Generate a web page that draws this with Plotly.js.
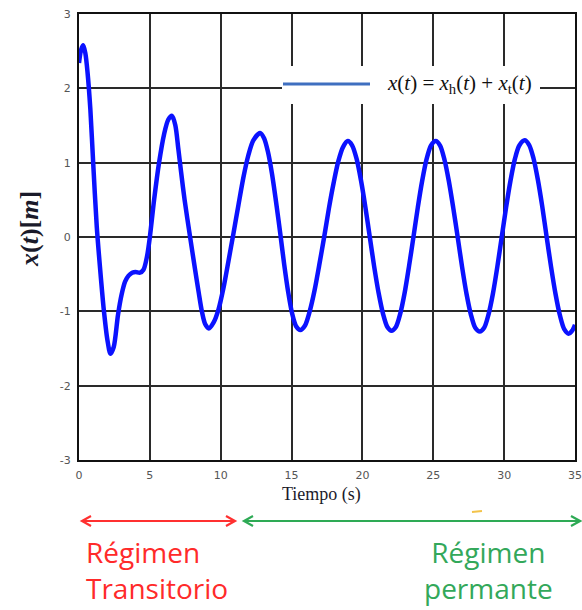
<!DOCTYPE html>
<html>
<head>
<meta charset="utf-8">
<script src="https://cdn.plot.ly/plotly-3.0.1.min.js"></script>
<style>html,body{margin:0;padding:0;background:#fff;}#chart{width:582px;height:610px;}</style>
</head>
<body>
<div id="chart"></div>
<script>
// Time (s)
const tiempo = [0,0.15,0.3,0.45,0.6,0.8,1.0,1.25,1.5,1.75,2.0,2.22,2.45,2.75,3.0,3.25,3.5,3.75,4.0,4.3,4.55,4.8,5.0,5.3,5.65,6.0,6.3,6.57,6.8,7.0,7.2,7.45,7.84,8.2,8.45,8.67,8.9,9.16,9.5,9.85,10.2,10.55,10.9,11.25,11.6,11.95,12.3,12.78,13.06,13.34,13.62,13.9,14.2,14.48,14.76,15.04,15.32,15.62,15.95,16.28,16.62,16.95,17.3,17.63,17.97,18.3,18.63,18.97,19.28,19.59,19.9,20.21,20.52,20.83,21.14,21.45,21.76,22.05,22.36,22.67,22.98,23.29,23.6,23.91,24.22,24.53,24.84,25.17,25.48,25.79,26.1,26.41,26.72,27.03,27.34,27.65,27.96,28.28,28.59,28.9,29.21,29.52,29.83,30.14,30.45,30.76,31.07,31.45,31.76,32.07,32.38,32.69,33.0,33.31,33.62,33.93,34.24,34.55,34.8,35.0];
// Displacement x(t) [m]
const desplazamiento = [2.34,2.52,2.58,2.47,2.22,1.72,1.0,0.15,-0.45,-0.98,-1.38,-1.57,-1.48,-1.05,-0.78,-0.6,-0.52,-0.48,-0.47,-0.48,-0.44,-0.26,0.0,0.5,1.0,1.38,1.58,1.63,1.5,1.2,0.88,0.5,0.0,-0.45,-0.75,-1.0,-1.17,-1.23,-1.15,-0.97,-0.68,-0.32,0.05,0.43,0.8,1.1,1.3,1.40,1.33,1.14,0.85,0.48,0.05,-0.37,-0.74,-1.03,-1.2,-1.25,-1.19,-1.0,-0.72,-0.38,0.0,0.38,0.73,1.02,1.21,1.29,1.23,1.05,0.76,0.40,0.0,-0.40,-0.75,-1.03,-1.21,-1.26,-1.21,-1.03,-0.75,-0.39,0.0,0.40,0.76,1.05,1.23,1.29,1.23,1.04,0.75,0.39,0.0,-0.40,-0.76,-1.04,-1.22,-1.27,-1.22,-1.04,-0.76,-0.40,0.0,0.40,0.76,1.05,1.23,1.30,1.24,1.06,0.77,0.41,0.0,-0.40,-0.76,-1.05,-1.24,-1.30,-1.26,-1.18];

const xTicks = [0,5,10,15,20,25,30,35];
const xTickLabels = ['0','5','10','15','20','25','30','35'];
const yTicks = [-3,-2,-1,0,1,2,3];
const yTickLabels = ['-3','-2','-1','0','1','2','3'];

const legendText = '<i>x</i>(<i>t</i>) = <i>x</i><sub>h</sub>(<i>t</i>) + <i>x</i><sub>t</sub>(<i>t</i>)';
const xTitle = 'Tiempo (s)';
const yTitle = '<b><i>x</i>(<i>t</i>)[<i>m</i>]</b>';
const transLabel = 'Régimen<br>Transitorio';
const permLabel = 'Régimen<br>permante';

// plot area in pixels: left 79, right 575, top 14, bottom 460
const L = 79, R = 575, T = 14, B = 460;
const px = v => (v - L) / (R - L);
const py = v => (B - v) / (B - T);

// double-headed arrow drawn as paper-space shapes (pixel positions converted)
function doubleArrow(x0, x1, yy, color) {
  const h = 9, w = 5;
  const pt = (a, b) => px(a) + ',' + py(b);
  return [
    {type: 'line', xref: 'paper', yref: 'paper', x0: px(x0 + 1), x1: px(x1 - 1), y0: py(yy), y1: py(yy),
     line: {color: color, width: 2}},
    {type: 'path', xref: 'paper', yref: 'paper',
     path: 'M' + pt(x0 + h, yy - w) + ' L' + pt(x0, yy) + ' L' + pt(x0 + h, yy + w),
     line: {color: color, width: 2.2}},
    {type: 'path', xref: 'paper', yref: 'paper',
     path: 'M' + pt(x1 - h, yy - w) + ' L' + pt(x1, yy) + ' L' + pt(x1 - h, yy + w),
     line: {color: color, width: 2.2}}
  ];
}

const trace = {
  x: tiempo, y: desplazamiento, type: 'scatter', mode: 'lines',
  line: {color: '#0b12ff', width: 4.5, shape: 'spline', smoothing: 0.8},
  showlegend: false, hoverinfo: 'skip'
};

const tickFont = {family: 'DejaVu Sans', size: 11, color: '#555'};

const layout = {
  width: 582, height: 610,
  margin: {l: L, r: 582 - R, t: T, b: 610 - B},
  paper_bgcolor: '#fff', plot_bgcolor: '#fff',
  showlegend: false,
  xaxis: {
    range: [0, 35], tickvals: xTicks, ticktext: xTickLabels,
    showgrid: true, gridcolor: '#2a2a2a', gridwidth: 2,
    showline: true, mirror: true, linecolor: '#111', linewidth: 2,
    zeroline: false, ticks: '', tickfont: tickFont, ticklabelstandoff: 4
  },
  yaxis: {
    range: [-3, 3], tickvals: yTicks, ticktext: yTickLabels,
    showgrid: true, gridcolor: '#2a2a2a', gridwidth: 2,
    showline: true, mirror: true, linecolor: '#111', linewidth: 2,
    zeroline: false, ticks: '', tickfont: tickFont, ticklabelstandoff: 4
  },
  shapes: [
    // legend box background
    {type: 'rect', xref: 'paper', yref: 'paper', x0: px(282), x1: px(540), y0: py(104), y1: py(66),
     fillcolor: '#fff', line: {width: 0}, layer: 'above'},
    // legend line sample
    {type: 'line', xref: 'paper', yref: 'paper', x0: px(283), x1: px(370), y0: py(84), y1: py(84),
     line: {color: '#3f6fc0', width: 3}, layer: 'above'},
    // small yellow mark
    {type: 'line', xref: 'paper', yref: 'paper', x0: px(472), x1: px(482), y0: py(512), y1: py(511),
     line: {color: '#f3c34a', width: 2}}
  ].concat(doubleArrow(82, 235, 521, '#ff3030'), doubleArrow(244, 580, 521, '#2eaa55')),
  annotations: [
    {xref: 'paper', yref: 'paper', x: px(459), y: py(84), text: legendText, showarrow: false,
     font: {family: 'Liberation Serif', size: 21, color: '#111'}, xanchor: 'center', yanchor: 'middle'},
    {xref: 'paper', yref: 'paper', x: px(321), y: py(494), text: xTitle, showarrow: false,
     font: {family: 'Liberation Serif', size: 18, color: '#1a1a2a'}, xanchor: 'center', yanchor: 'middle'},
    {xref: 'paper', yref: 'paper', x: px(30), y: py(229), text: yTitle, showarrow: false, textangle: -90,
     font: {family: 'Liberation Serif', size: 26, color: '#1a1a2a'}, xanchor: 'center', yanchor: 'middle'},
    {xref: 'paper', yref: 'paper', x: px(84), y: py(570), text: transLabel, showarrow: false, align: 'left',
     font: {family: 'Open Sans', size: 28, color: '#ff2a2a'}, xanchor: 'left', yanchor: 'middle'},
    {xref: 'paper', yref: 'paper', x: px(488), y: py(570), text: permLabel, showarrow: false, align: 'center',
     font: {family: 'Open Sans', size: 28, color: '#33a85a'}, xanchor: 'center', yanchor: 'middle'}
  ]
};

Plotly.newPlot('chart', [trace], layout, {staticPlot: true, displayModeBar: false});
</script>
</body>
</html>
